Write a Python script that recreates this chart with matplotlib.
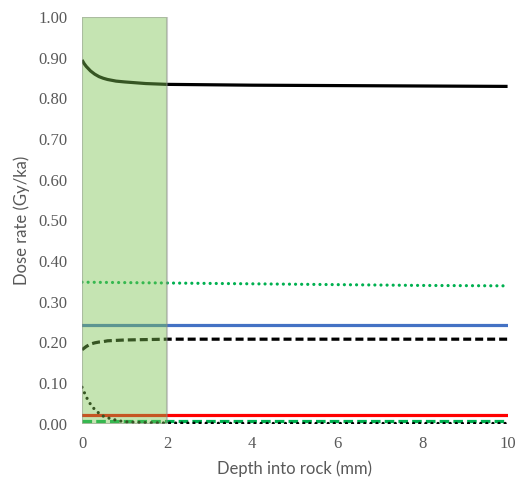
import matplotlib
matplotlib.use("Agg")
import matplotlib.pyplot as plt
from matplotlib.patches import Rectangle

# depth (mm) and dose rates (Gy/ka)
depth = [0, 0.05, 0.1, 0.2, 0.3, 0.4, 0.5, 0.6, 0.8, 1.0, 1.5, 2, 4, 6, 8, 10]
total = [0.894, 0.885, 0.878, 0.867, 0.859, 0.853, 0.849, 0.846, 0.842, 0.840,
         0.836, 0.834, 0.832, 0.831, 0.830, 0.829]
beta = [0.182, 0.186, 0.190, 0.196, 0.199, 0.201, 0.202, 0.204, 0.205, 0.206,
        0.207, 0.208, 0.208, 0.208, 0.208, 0.208]
surface = [0.090, 0.078, 0.066, 0.048, 0.035, 0.026, 0.019, 0.015, 0.009, 0.005,
           0.003, 0.002, 0.001, 0.001, 0.001, 0.001]

depth_flat = [0, 2, 4, 6, 8, 10]
gamma = [0.348, 0.346, 0.344, 0.342, 0.340, 0.339]
blue = [0.243, 0.243, 0.243, 0.243, 0.243, 0.243]
red = [0.022, 0.022, 0.022, 0.022, 0.022, 0.022]
green_dash = [0.008, 0.008, 0.008, 0.008, 0.008, 0.008]

shade_from, shade_to = 0, 2

yticks = [0.0, 0.1, 0.2, 0.3, 0.4, 0.5, 0.6, 0.7, 0.8, 0.9, 1.0]
xticks = [0, 2, 4, 6, 8, 10]

serif = ["Liberation Serif", "DejaVu Serif"]

fig = plt.figure(figsize=(5.19, 4.8), dpi=100)
ax = fig.add_axes([0.158, 0.117, 0.82, 0.848])

lw = 2.3
dots = (0, (0.01, 1.9))
ax.plot(depth, total, color="black", lw=lw, solid_capstyle="butt")
ax.plot(depth_flat, gamma, color="#00b050", lw=lw, linestyle=dots,
        dash_capstyle="round")
ax.plot(depth_flat, blue, color="#4472c4", lw=lw)
ax.plot(depth, beta, color="black", lw=lw, linestyle=(0, (2.5, 1.25)))
ax.plot(depth_flat, red, color="#ff0000", lw=lw)
ax.plot(depth_flat, green_dash, color="#00b050", lw=lw, linestyle=(0, (3, 1.3)))
ax.plot(depth, surface, color="black", lw=lw, linestyle=dots,
        dash_capstyle="round")

# translucent overlay of the outer rock layer
ax.add_patch(Rectangle((shade_from, 0), shade_to - shade_from, 1.0,
                       facecolor="#7dc350", alpha=0.44, edgecolor="#8a8a8a",
                       lw=1.5, zorder=5))

ax.set_xlim(0, 10)
ax.set_ylim(0, 1.0)
ax.set_xticks(xticks)
ax.set_xticklabels([str(v) for v in xticks], family=serif)
ax.set_yticks(yticks)
ax.set_yticklabels(["%.2f" % v for v in yticks], family=serif)
for s in ax.spines.values():
    s.set_visible(False)
ax.tick_params(length=0, labelcolor="#595959", labelsize=12)
ax.tick_params(axis="y", pad=10.5)
ax.tick_params(axis="x", pad=9)

ax.set_xlabel("Depth into rock (mm)", family="Lato", fontsize=12,
              color="#595959", labelpad=6)
ax.set_ylabel("Dose rate (Gy/ka)", family="Lato", fontsize=12,
              color="#595959", labelpad=6)

fig.savefig("out.png", dpi=100)
